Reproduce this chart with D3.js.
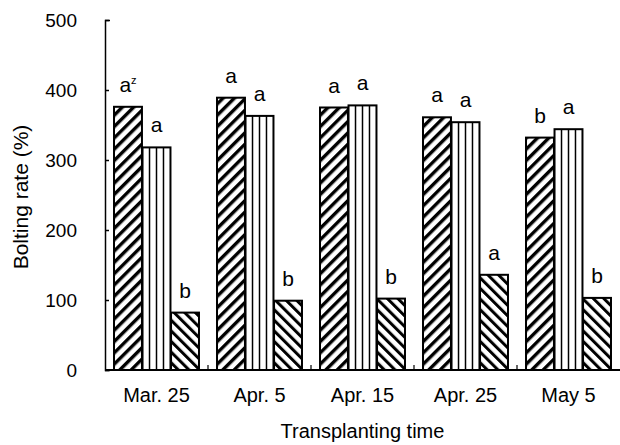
<!DOCTYPE html>
<html>
<head>
<meta charset="utf-8">
<title>Bolting rate</title>
<style>
	body { margin: 0; background: #fff; }
	svg text { font-family: "Liberation Sans", Arial, sans-serif; fill: #000; }
	.axis text { font-size: 19px; }
	.xaxis text { font-size: 20px; }
	.letter { font-size: 21px; text-anchor: middle; }
</style>
</head>
<body>
<div id="chart"></div>
<script src="https://cdnjs.cloudflare.com/ajax/libs/d3/7.8.5/d3.min.js"></script>
<script>
// transplanting dates
var dates = ["Mar. 25", "Apr. 5", "Apr. 15", "Apr. 25", "May 5"];
// bolting rate (%) for the three treatments
var series1 = [376, 389, 375, 361, 332];
var series2 = [318, 363, 378, 354, 344];
var series3 = [82, 99, 102, 136, 103];
// significance letters
var letters1 = ["a", "a", "a", "a", "b"];
var letters2 = ["a", "a", "a", "a", "a"];
var letters3 = ["b", "b", "b", "a", "b"];
var yTicks = [0, 100, 200, 300, 400, 500];

var width = 620, height = 445;

var svg = d3.select("#chart").append("svg")
	.attr("width", width)
	.attr("height", height);

// hatch patterns
var defs = svg.append("defs");
defs.append("pattern")
	.attr("id", "hatchUp")
	.attr("patternUnits", "userSpaceOnUse")
	.attr("width", 8).attr("height", 8)
	.attr("patternTransform", "rotate(45)")
	.append("rect")
	.attr("x", 0).attr("y", 0)
	.attr("width", 3.4).attr("height", 8)
	.attr("fill", "#000");

defs.append("pattern")
	.attr("id", "hatchDown")
	.attr("patternUnits", "userSpaceOnUse")
	.attr("width", 7.5).attr("height", 7.5)
	.attr("patternTransform", "rotate(-45)")
	.append("rect")
	.attr("x", 0).attr("y", 0)
	.attr("width", 3).attr("height", 7.5)
	.attr("fill", "#000");

var fills = ["url(#hatchUp)", "#fff", "url(#hatchDown)"];

// scales
var y = d3.scaleLinear().domain([0, 500]).range([370, 20]);

var x0 = d3.scaleBand()
	.domain(dates)
	.range([105, 620])
	.paddingInner(0.175)
	.paddingOuter(0.0875);

var x1 = d3.scaleBand()
	.domain([0, 1, 2])
	.range([0, x0.bandwidth()])
	.paddingInner(0.02);

var rows = dates.map(function(d, i) {
	return {
		date: d,
		bars: [
			{ k: 0, value: series1[i], letter: letters1[i] },
			{ k: 1, value: series2[i], letter: letters2[i] },
			{ k: 2, value: series3[i], letter: letters3[i] }
		]
	};
});

var groups = svg.selectAll(".group")
	.data(rows)
	.enter().append("g")
	.attr("class", "group")
	.attr("transform", function(d) { return "translate(" + x0(d.date) + ",0)"; });

var bar = groups.selectAll(".bar")
	.data(function(d) { return d.bars; })
	.enter().append("g")
	.attr("class", "bar");

bar.append("rect")
	.attr("x", function(d) { return x1(d.k); })
	.attr("y", function(d) { return y(d.value); })
	.attr("width", x1.bandwidth())
	.attr("height", function(d) { return y(0) - y(d.value); })
	.attr("fill", "#fff");

// vertical lines inside the middle bar
bar.filter(function(d) { return d.k === 1; })
	.selectAll(".vl")
	.data(function(d) { return [0.25, 0.5, 0.75].map(function(f) { return { f: f, k: d.k, value: d.value }; }); })
	.enter().append("line")
	.attr("class", "vl")
	.attr("x1", function(d) { return x1(d.k) + d.f * x1.bandwidth(); })
	.attr("x2", function(d) { return x1(d.k) + d.f * x1.bandwidth(); })
	.attr("y1", function(d) { return y(d.value); })
	.attr("y2", y(0))
	.attr("stroke", "#000")
	.attr("stroke-width", 1.5);

bar.append("rect")
	.attr("x", function(d) { return x1(d.k); })
	.attr("y", function(d) { return y(d.value); })
	.attr("width", x1.bandwidth())
	.attr("height", function(d) { return y(0) - y(d.value); })
	.attr("fill", function(d) { return d.k === 1 ? "none" : fills[d.k]; })
	.attr("stroke", "#000")
	.attr("stroke-width", 2);

bar.append("text")
	.attr("class", "letter")
	.attr("x", function(d) { return x1(d.k) + x1.bandwidth() / 2; })
	.attr("y", function(d) { return y(d.value) - 15; })
	.text(function(d) { return d.letter; });

// superscript z on the first label
groups.filter(function(d, i) { return i === 0; })
	.selectAll(".letter")
	.filter(function(d) { return d.k === 0; })
	.append("tspan")
	.attr("font-size", 11)
	.attr("dy", -8)
	.text("z");

// y axis
svg.append("g")
	.attr("class", "axis")
	.attr("transform", "translate(105,0)")
	.call(d3.axisLeft(y)
		.tickValues(yTicks)
		.tickSizeInner(-4)
		.tickSizeOuter(-5)
		.tickPadding(28))
	.call(function(g) {
		g.selectAll("path, line").attr("stroke", "#000").attr("stroke-width", 1.5);
	});

// x axis
var xAxis = svg.append("g")
	.attr("class", "xaxis")
	.attr("transform", "translate(0,370)")
	.call(d3.axisBottom(x0).tickSize(0).tickPadding(18));
xAxis.select(".domain").remove();

svg.append("line")
	.attr("x1", x0.range()[0]).attr("x2", x0.range()[1])
	.attr("y1", y(0)).attr("y2", y(0))
	.attr("stroke", "#000")
	.attr("stroke-width", 2);

// small ticks between groups
svg.selectAll(".sep")
	.data(dates.slice(1))
	.enter().append("line")
	.attr("class", "sep")
	.attr("x1", function(d) { return x0(d) - x0.step() * x0.paddingInner() / 2; })
	.attr("x2", function(d) { return x0(d) - x0.step() * x0.paddingInner() / 2; })
	.attr("y1", y(0))
	.attr("y2", y(0) - 5)
	.attr("stroke", "#000")
	.attr("stroke-width", 1.2);

// axis titles
svg.append("text")
	.attr("x", (x0.range()[0] + x0.range()[1]) / 2)
	.attr("y", 438)
	.attr("text-anchor", "middle")
	.style("font-size", "20px")
	.text("Transplanting time");

svg.append("text")
	.attr("transform", "translate(28,197) rotate(-90)")
	.attr("text-anchor", "middle")
	.style("font-size", "21px")
	.text("Bolting rate (%)");
</script>
</body>
</html>
